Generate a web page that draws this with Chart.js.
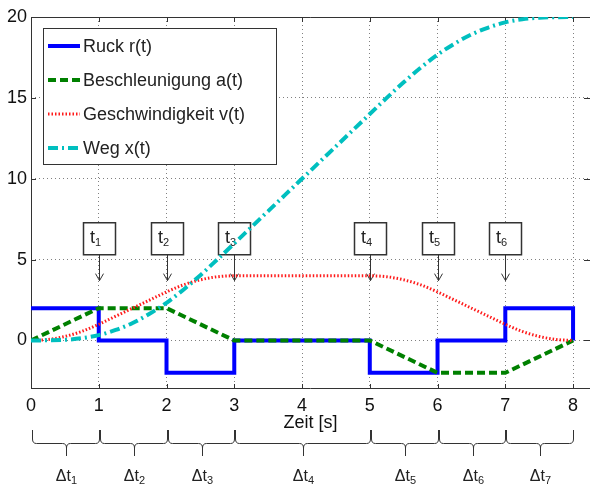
<!DOCTYPE html>
<html>
<head>
<meta charset="utf-8">
<script src="https://cdn.jsdelivr.net/npm/chart.js@4.4.1/dist/chart.umd.min.js"></script>
<style>
body{margin:0;background:#fff}
#wrap{width:590px;height:487px}
</style>
</head>
<body>
<div id="wrap"><canvas id="ruck" width="590" height="487"></canvas></div>
<script>
// Ruck r(t): Sprungfunktion, doppelte Zeitpunkte fuer die Flanken
var jerkT = [0,1,1,2,2,3,3,5,5,6,6,7,7,8,8];
var jerkR = [2,2,0,0,-2,-2,0,0,-2,-2,0,0,2,2,0];

// Beschleunigung a(t): Eckpunkte
var accT = [0,1,2,3,5,6,7,8];
var accA = [0,2,2,0,0,-2,-2,0];

var sampleT = [0,0.25,0.5,0.75,1,1.25,1.5,1.75,2,2.25,2.5,2.75,3,3.25,3.5,3.75,4,
               4.25,4.5,4.75,5,5.25,5.5,5.75,6,6.25,6.5,6.75,7,7.25,7.5,7.75,8];
var velV = [0,0.06,0.25,0.56,1,1.5,2,2.5,3,3.44,3.75,3.94,4,4,4,4,4,
            4,4,4,4,3.94,3.75,3.44,3,2.5,2,1.5,1,0.56,0.25,0.06,0];
var posX = [0,0.01,0.04,0.14,0.33,0.65,1.08,1.65,2.33,3.14,4.04,5.01,6,7,8,9,10,
            11,12,13,14,15,15.96,16.86,17.67,18.35,18.92,19.35,19.67,19.86,19.96,19.99,20];

var xTicks = [0,1,2,3,4,5,6,7,8];
var yTicks = [0,5,10,15,20];

// Markierungen t1..t6 und Intervalle dt1..dt7
var markerTimes = [1,2,3,5,6,7];
var markerNames = ['1','2','3','4','5','6'];
var intervalBounds = [0,1,2,3,5,6,7,8];
var intervalNames = ['1','2','3','4','5','6','7'];

var fam = '"Liberation Sans", Arial, sans-serif';
Chart.defaults.font.family = fam;

function pts(xs, ys){
    var out = [];
    for(var i = 0; i < xs.length; i++){
        out.push({x: xs[i], y: ys[i]});
    }
    return out;
}

function subText(ctx, main, sub, cx, baseY, mainSize, subSize){
    ctx.font = mainSize + 'px ' + fam;
    var w1 = ctx.measureText(main).width;
    ctx.font = subSize + 'px ' + fam;
    var w2 = ctx.measureText(sub).width;
    var x0 = cx - (w1 + w2) / 2;
    ctx.textAlign = 'left';
    ctx.textBaseline = 'alphabetic';
    ctx.font = mainSize + 'px ' + fam;
    ctx.fillText(main, x0, baseY);
    ctx.font = subSize + 'px ' + fam;
    ctx.fillText(sub, x0 + w1, baseY + mainSize * 0.2);
}

// Rahmen mit Teilstrichen nach innen und die t-Kaesten mit Pfeilen
var framePlugin = {
    id: 'frame',
    beforeDatasetsDraw: function(chart){
        var ctx = chart.ctx, a = chart.chartArea;
        var xs = chart.scales.x, ys = chart.scales.y;
        ctx.save();
        ctx.strokeStyle = '#333';
        ctx.lineWidth = 1;
        ctx.beginPath();
        ctx.moveTo(a.left + 0.5, a.bottom - 0.5);
        ctx.lineTo(a.left + 0.5, a.top + 0.5);
        ctx.lineTo(a.right, a.top + 0.5);
        ctx.moveTo(a.left, a.bottom - 0.5);
        ctx.lineTo(a.right, a.bottom - 0.5);
        xTicks.forEach(function(v){
            var px = Math.round(xs.getPixelForValue(v)) + 0.5;
            ctx.moveTo(px, a.bottom); ctx.lineTo(px, a.bottom - 5);
            ctx.moveTo(px, a.top); ctx.lineTo(px, a.top + 5);
        });
        yTicks.forEach(function(v){
            var py = Math.round(ys.getPixelForValue(v)) + 0.5;
            ctx.moveTo(a.left, py); ctx.lineTo(a.left + 5, py);
            ctx.moveTo(a.right, py); ctx.lineTo(a.right - 6, py);
        });
        ctx.stroke();

        // t-Kaesten
        var boxBottom = ys.getPixelForValue(5.3);
        var tip = ys.getPixelForValue(3.7);
        markerTimes.forEach(function(t, i){
            var cx = Math.round(xs.getPixelForValue(t)) + 0.5;
            ctx.strokeStyle = '#333';
            ctx.lineWidth = 1;
            ctx.beginPath();
            ctx.moveTo(cx, boxBottom);
            ctx.lineTo(cx, tip);
            ctx.moveTo(cx - 4, tip - 7);
            ctx.lineTo(cx, tip);
            ctx.lineTo(cx + 4, tip - 7);
            ctx.stroke();
            ctx.fillStyle = '#fff';
            ctx.lineWidth = 1.5;
            ctx.fillRect(cx - 16, boxBottom - 32, 32, 32);
            ctx.strokeRect(cx - 16, boxBottom - 32, 32, 32);
            ctx.fillStyle = '#222';
            subText(ctx, 't', markerNames[i], cx - 4, boxBottom - 12, 18, 11);
        });
        ctx.restore();
    }
};

// Legende und Klammern unter der Achse
var extrasPlugin = {
    id: 'extras',
    afterDatasetsDraw: function(chart){
        var ctx = chart.ctx, a = chart.chartArea;
        var xs = chart.scales.x;
        ctx.save();
        ctx.fillStyle = '#fff';
        ctx.fillRect(43, 28, 233, 136);
        ctx.strokeStyle = '#333';
        ctx.lineWidth = 1;
        ctx.strokeRect(43.5, 28.5, 233, 136);
        var rows = [46, 80, 114, 148];
        chart.data.datasets.forEach(function(ds, i){
            ctx.save();
            ctx.strokeStyle = ds.borderColor;
            ctx.lineWidth = ds.borderWidth;
            ctx.setLineDash(ds.borderDash || []);
            ctx.beginPath();
            ctx.moveTo(48, rows[i]);
            ctx.lineTo(80, rows[i]);
            ctx.stroke();
            ctx.restore();
            ctx.fillStyle = '#222';
            ctx.font = '18px ' + fam;
            ctx.textAlign = 'left';
            ctx.textBaseline = 'middle';
            ctx.fillText(ds.label, 83, rows[i] + 1);
        });

        // geschweifte Klammern
        var top = a.bottom + 41, h = a.bottom + 55, stem = a.bottom + 67;
        ctx.strokeStyle = '#333';
        ctx.lineWidth = 1;
        for(var k = 0; k < intervalNames.length; k++){
            var xa = Math.round(xs.getPixelForValue(intervalBounds[k])) + 1.5;
            var xb = Math.round(xs.getPixelForValue(intervalBounds[k + 1])) + 0.5;
            var mid = Math.round((xa + xb) / 2) + 0.5;
            ctx.beginPath();
            ctx.moveTo(xa, top);
            ctx.lineTo(xa, h - 5);
            ctx.quadraticCurveTo(xa, h - 0.5, xa + 4, h - 0.5);
            ctx.lineTo(mid - 4, h - 0.5);
            ctx.quadraticCurveTo(mid, h - 0.5, mid, h + 4);
            ctx.lineTo(mid, stem);
            ctx.moveTo(xb, top);
            ctx.lineTo(xb, h - 5);
            ctx.quadraticCurveTo(xb, h - 0.5, xb - 4, h - 0.5);
            ctx.lineTo(mid + 4, h - 0.5);
            ctx.quadraticCurveTo(mid, h - 0.5, mid, h + 4);
            ctx.stroke();
            ctx.fillStyle = '#222';
            subText(ctx, '\u0394t', intervalNames[k], mid, a.bottom + 92, 16, 11);
        }
        ctx.restore();
    }
};

var config = {
    type: 'line',
    data: {
        datasets: [
            {label: 'Ruck r(t)', data: pts(jerkT, jerkR), borderColor: '#0000ff', borderWidth: 4,
             borderJoinStyle: 'miter', order: 4},
            {label: 'Beschleunigung a(t)', data: pts(accT, accA), borderColor: '#008000', borderWidth: 4,
             borderDash: [8, 4], order: 3},
            {label: 'Geschwindigkeit v(t)', data: pts(sampleT, velV), borderColor: '#ff1a1a', borderWidth: 3,
             borderDash: [1.5, 2], cubicInterpolationMode: 'monotone', order: 2},
            {label: 'Weg x(t)', data: pts(sampleT, posX), borderColor: '#00bfbf', borderWidth: 4,
             borderDash: [10, 4, 2, 4], cubicInterpolationMode: 'monotone', order: 1}
        ]
    },
    options: {
        responsive: false,
        animation: false,
        events: [],
        layout: {padding: {left: 0, top: 17, right: 0, bottom: 53}},
        elements: {point: {radius: 0}, line: {fill: false, tension: 0}},
        plugins: {legend: {display: false}, tooltip: {enabled: false}},
        scales: {
            x: {
                type: 'linear', min: 0, max: 8.25,
                afterBuildTicks: function(s){ s.ticks = xTicks.map(function(v){ return {value: v}; }); },
                afterFit: function(s){ s.height = 45; },
                grid: {color: '#808080', drawTicks: false},
                border: {display: false, dash: [1, 3]},
                ticks: {font: {size: 18}, color: '#111', padding: 6, maxRotation: 0, autoSkip: false},
                title: {display: true, text: 'Zeit [s]', font: {size: 18}, color: '#111', padding: {top: 0, bottom: 0}}
            },
            y: {
                type: 'linear', min: -3, max: 20,
                afterBuildTicks: function(s){ s.ticks = yTicks.map(function(v){ return {value: v}; }); },
                afterFit: function(s){ s.width = 31; },
                grid: {color: '#808080', drawTicks: false},
                border: {display: false, dash: [1, 3]},
                ticks: {font: {size: 18}, color: '#111', padding: 4}
            }
        }
    },
    plugins: [framePlugin, extrasPlugin]
};

var ctx = document.getElementById('ruck').getContext('2d');
var ruckChart = new Chart(ctx, config);
</script>
</body>
</html>
